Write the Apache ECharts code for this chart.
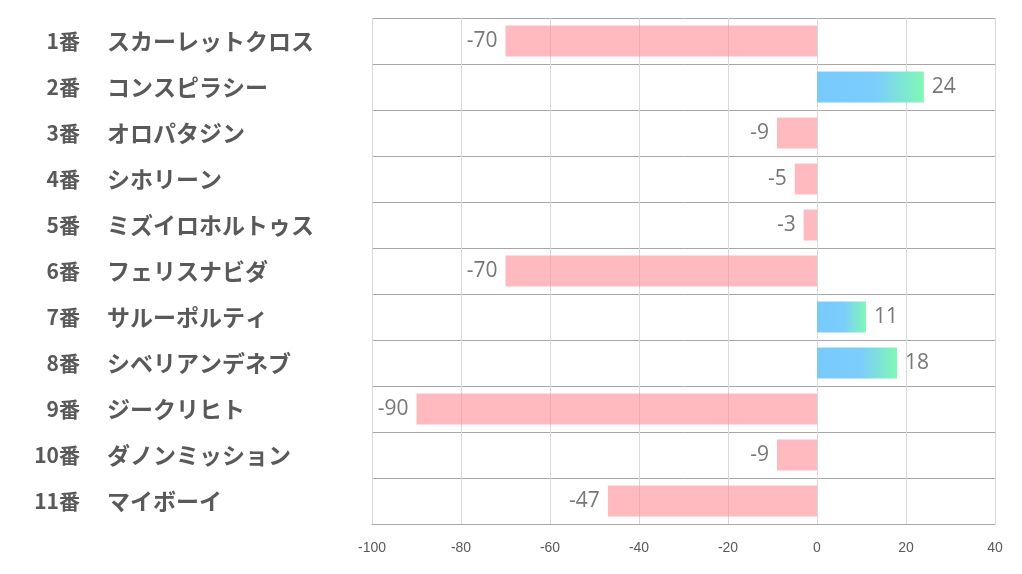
<!DOCTYPE html>
<html>
<head>
<meta charset="utf-8">
<script src="https://cdn.jsdelivr.net/npm/echarts@6/dist/echarts.min.js"></script>
<style>
html,body{margin:0;padding:0;background:#fff;}
#chart{width:1022px;height:574px;}
</style>
</head>
<body>
<div id="chart"></div>
<script>
const numbers = ['1番','2番','3番','4番','5番','6番','7番','8番','9番','10番','11番'];
const names = ['スカーレットクロス','コンスピラシー','オロパタジン','シホリーン','ミズイロホルトゥス','フェリスナビダ','サルーポルティ','シベリアンデネブ','ジークリヒト','ダノンミッション','マイボーイ'];
const values = [-70, 24, -9, -5, -3, -70, 11, 18, -90, -9, -47];
const xTicks = [-100, -80, -60, -40, -20, 0, 20, 40];

const posGradient = new echarts.graphic.LinearGradient(0, 0, 1, 0, [
  {offset: 0, color: '#78CAFD'},
  {offset: 0.55, color: '#7BCDFC'},
  {offset: 1, color: '#80F8B4'}
]);

const chart = echarts.init(document.getElementById('chart'));
chart.setOption({
  animation: false,
  backgroundColor: '#ffffff',
  grid: {left: 372, right: 27, top: 18, bottom: 50, containLabel: false},
  xAxis: {
    type: 'value',
    min: xTicks[0],
    max: xTicks[xTicks.length - 1],
    interval: 20,
    axisLine: {show: true, lineStyle: {color: '#a6a6a6', width: 1}},
    axisTick: {show: false},
    splitLine: {show: true, lineStyle: {color: '#d9d9d9', width: 1}},
    axisLabel: {
      color: '#595959',
      fontSize: 14,
      fontFamily: 'Liberation Sans Narrow, Liberation Sans, sans-serif',
      margin: 17
    }
  },
  yAxis: [{
    type: 'category',
    data: names,
    inverse: true,
    position: 'left',
    axisLine: {show: false},
    axisTick: {show: false},
    splitLine: {show: true, lineStyle: {color: '#a6a6a6', width: 1}},
    axisLabel: {
      align: 'left',
      margin: 265,
      fontSize: 23,
      fontWeight: 'bold',
      color: '#595959',
      fontFamily: 'Noto Sans CJK JP'
    }
  }, {
    type: 'category',
    data: numbers,
    inverse: true,
    position: 'left',
    offset: 0,
    axisLine: {show: false},
    axisTick: {show: false},
    splitLine: {show: false},
    axisLabel: {
      align: 'right',
      margin: 292,
      fontSize: 21,
      fontWeight: 'bold',
      color: '#595959',
      fontFamily: 'Noto Sans CJK JP'
    }
  }],
  series: [{
    type: 'bar',
    yAxisIndex: 0,
    barWidth: 31,
    data: values.map(v => ({
      value: v,
      itemStyle: {color: v < 0 ? 'rgba(255,140,150,0.6)' : posGradient},
      label: {position: v < 0 ? 'left' : 'right'}
    })),
    label: {
      show: true,
      distance: 8,
      color: '#777777',
      fontSize: 21,
      fontFamily: 'Open Sans, sans-serif'
    }
  }]
});
</script>
</body>
</html>
